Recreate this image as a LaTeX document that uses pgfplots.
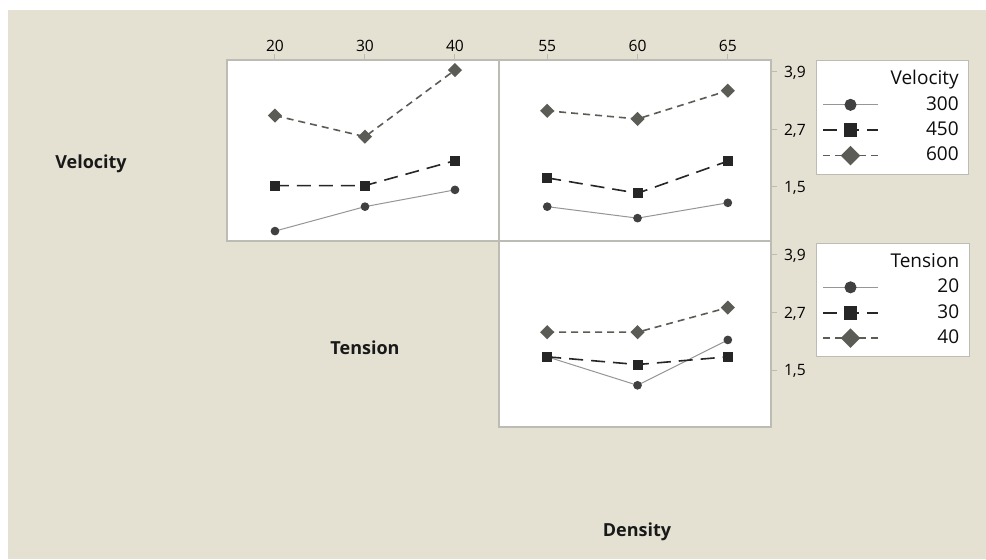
\documentclass[border=0pt]{standalone}
\usepackage{fontspec}
\setmainfont{Open Sans}
\usepackage{pgfplots}
\pgfplotsset{compat=1.18}
\definecolor{bg}{RGB}{229,225,210}
\definecolor{frame}{RGB}{188,188,180}
\definecolor{cA}{RGB}{64,64,64}
\definecolor{lA}{RGB}{150,150,150}
\definecolor{cB}{RGB}{38,38,38}
\definecolor{cC}{RGB}{92,92,86}
\pgfplotsset{
  panel/.style={scale only axis, width=136pt,
    axis background/.style={fill=white},
    axis line style={frame, line width=0.6pt},
    tick style={frame, line width=0.5pt},
    major tick length=3pt, tick align=outside,
    ticklabel style={font=\fontsize{7.8}{9}\selectfont, text=black},
    xticklabel style={yshift=-2.5pt},
    yticklabel style={yshift=-0.5pt},
    /pgf/number format/assume math mode=true,
    yticklabel style={/pgf/number format/use comma,
      /pgf/number format/fixed,
      /pgf/number format/precision=1,
      /pgf/number format/fixed zerofill},
    clip=false,
    legend cell align=right,
    legend image code/.code={\draw[mark repeat=2,mark phase=2,##1,every mark/.append style={scale=1.45}] plot coordinates {(0cm,0cm) (0.48cm,0cm) (0.96cm,0cm)};},
    legend style={at={(1,1)}, anchor=north west, xshift=22.5pt,
      draw=frame, fill=white, font=\fontsize{9.5}{11}\selectfont, text=black!95,
      inner xsep=3pt, inner ysep=3pt, row sep=0.3pt,
      /tikz/every odd column/.append style={column sep=4pt}},
  },
  sA/.style={lA, line width=0.5pt, solid, mark=*, mark size=1.9pt, mark options={solid, fill=cA, draw=cA}},
  sB/.style={cB, line width=0.8pt, dash pattern=on 7pt off 4pt, mark=square*, mark size=2.1pt, mark options={solid, fill=cB, draw=cB}},
  sC/.style={cC, line width=0.8pt, dash pattern=on 3.5pt off 2.5pt, mark=square*, mark size=2.1pt, mark options={solid, fill=cC, draw=cC, rotate=45}},
}
\newcommand{\lgt}[1]{#1\hspace{7pt}}
\begin{document}
\begin{tikzpicture}
\fill[white] (0,0) rectangle (493pt,279.5pt);
\fill[bg] (4pt,0) rectangle (493pt,274.5pt);

% top-left: Velocity vs Tension
\begin{axis}[panel, at={(113.5pt,159pt)}, anchor=south west, height=90.5pt,
  xmin=14.67, xmax=44.89, ymin=0.373, ymax=4.150,
  xtick={20,30,40}, xticklabels={20,30,40}, xtick pos=right, xticklabel pos=right, ytick=\empty]
\addplot[sA] coordinates {(20,0.58) (30,1.09) (40,1.44)};
\addplot[sB] coordinates {(20,1.53) (30,1.53) (40,2.05)};
\addplot[sC] coordinates {(20,2.99) (30,2.55) (40,3.94)};
\end{axis}

% top-right: Velocity vs Density
\begin{axis}[panel, at={(249.5pt,159pt)}, anchor=south west, height=90.5pt,
  xmin=52.33, xmax=67.39, ymin=0.373, ymax=4.150,
  xtick={55,60,65}, xticklabels={55,60,65}, xtick pos=right, xticklabel pos=right,
  ytick={1.5,2.7,3.9}, ytick pos=right, yticklabel pos=right]
\addlegendimage{empty legend}\addlegendentry{\lgt{Velocity}}
\addplot[sA] coordinates {(55,1.09) (60,0.85) (65,1.17)};
\addlegendentry{\lgt{300}}
\addplot[sB] coordinates {(55,1.69) (60,1.37) (65,2.04)};
\addlegendentry{\lgt{450}}
\addplot[sC] coordinates {(55,3.09) (60,2.92) (65,3.51)};
\addlegendentry{\lgt{600}}
\end{axis}

% bottom: Tension vs Density
\begin{axis}[panel, at={(249.5pt,66pt)}, anchor=south west, height=93pt,
  xmin=52.33, xmax=67.39, ymin=0.326, ymax=4.179,
  xtick=\empty,
  ytick={1.5,2.7,3.9}, ytick pos=right, yticklabel pos=right,
  legend style={yshift=-1pt}]
\addlegendimage{empty legend}\addlegendentry{\lgt{Tension}}
\addplot[sA] coordinates {(55,1.78) (60,1.19) (65,2.13)};
\addlegendentry{\lgt{20}}
\addplot[sB] coordinates {(55,1.78) (60,1.62) (65,1.78)};
\addlegendentry{\lgt{30}}
\addplot[sC] coordinates {(55,2.29) (60,2.29) (65,2.80)};
\addlegendentry{\lgt{40}}
\end{axis}

\node[font=\fontsize{9}{11}\selectfont\bfseries, text=black!90] at (45.5pt,197.5pt) {Velocity};
\node[font=\fontsize{9}{11}\selectfont\bfseries, text=black!90] at (182.5pt,105.5pt) {Tension};
\node[font=\fontsize{9}{11}\selectfont\bfseries, text=black!90] at (318.5pt,13.7pt) {Density};
\end{tikzpicture}
\end{document}
